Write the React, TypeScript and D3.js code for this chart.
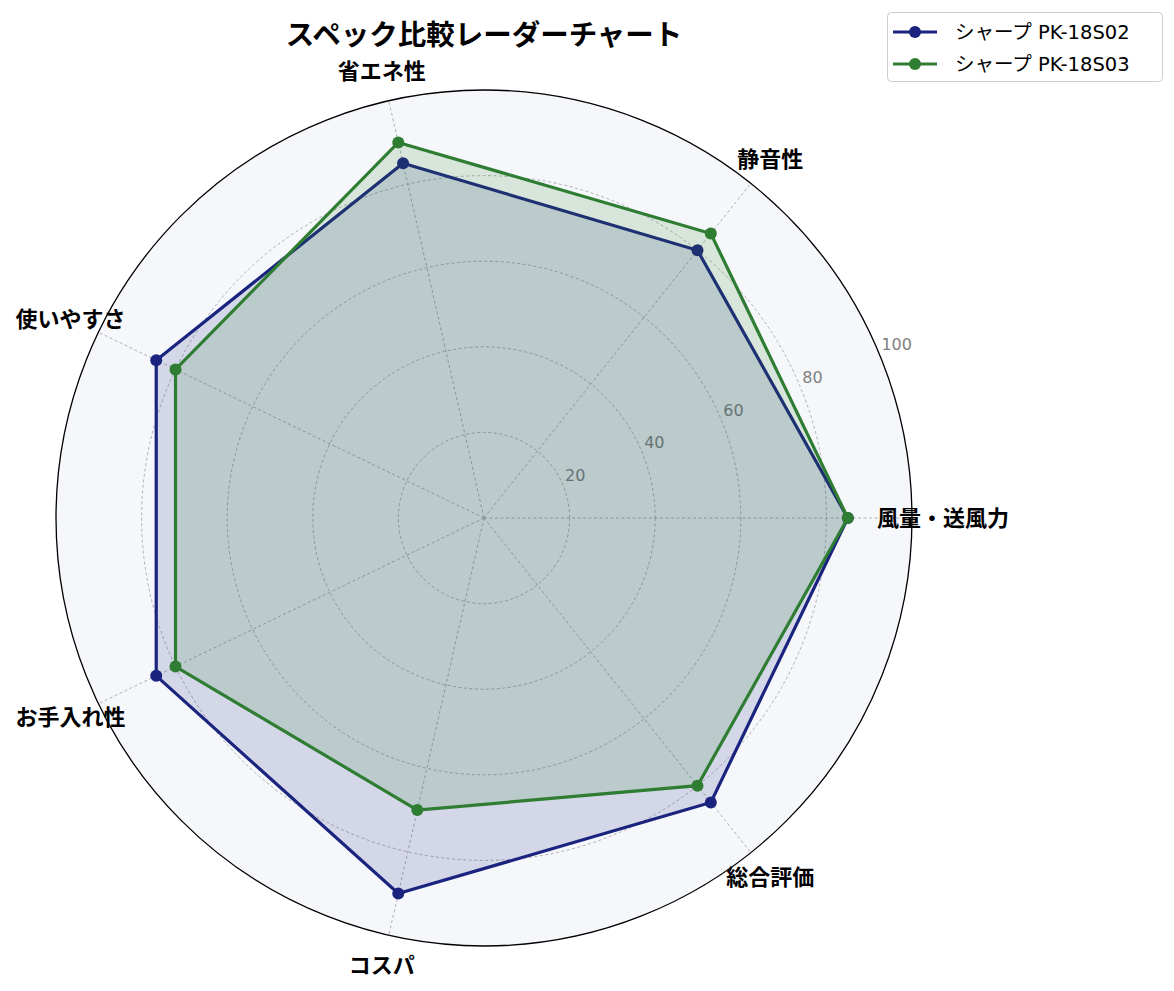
import React, { useEffect, useRef } from 'react';
import * as d3 from 'd3';

const categories = ['風量・送風力', '静音性', '省エネ性', '使いやすさ', 'お手入れ性', 'コスパ', '総合評価'];
const seriesNames = ['シャープ PK-18S02', 'シャープ PK-18S03'];
const valuesS02 = [85, 80, 85, 85, 85, 90, 85];
const valuesS03 = [85, 85, 90, 80, 80, 70, 80];
const seriesColors = ['#1a237e', '#2e7d32'];
const radialTicks = [20, 40, 60, 80, 100];

const W = 1174;
const H = 991;
const FONT = '"Noto Sans CJK JP", "Noto Sans", sans-serif';
const LATIN_FONT = '"DejaVu Sans", "Noto Sans CJK JP", sans-serif';

export default function App() {
  const svgRef = useRef<SVGSVGElement>(null);

  useEffect(() => {
    document.body.style.margin = '0';
    if (!svgRef.current) return;
    const svg = d3.select(svgRef.current);
    svg.selectAll('*').remove();

    const cx = 484;
    const cy = 518;
    const R = 428;

    const r = d3.scaleLinear().domain([0, 100]).range([0, R]);
    const angle = d3.scaleLinear().domain([0, categories.length]).range([0, 2 * Math.PI]);
    // theta 0 at east, counter-clockwise
    const px = (i: number, v: number) => cx + r(v) * Math.cos(angle(i));
    const py = (i: number, v: number) => cy - r(v) * Math.sin(angle(i));

    svg.append('circle')
      .attr('cx', cx).attr('cy', cy).attr('r', R)
      .attr('fill', '#f5f7fa');

    // grid rings
    svg.append('g').selectAll('circle')
      .data(radialTicks.filter(t => t < 100))
      .join('circle')
      .attr('cx', cx).attr('cy', cy)
      .attr('r', d => r(d))
      .attr('fill', 'none')
      .attr('stroke', '#9e9e9e')
      .attr('stroke-width', 0.8)
      .attr('stroke-dasharray', '3,2.5');

    // spokes
    svg.append('g').selectAll('line')
      .data(categories)
      .join('line')
      .attr('x1', cx).attr('y1', cy)
      .attr('x2', (_, i) => px(i, 100))
      .attr('y2', (_, i) => py(i, 100))
      .attr('stroke', '#9e9e9e')
      .attr('stroke-width', 0.8)
      .attr('stroke-dasharray', '3,2.5');

    // radial tick labels at 22.5°
    const la = (22.5 * Math.PI) / 180;
    svg.append('g').selectAll('text')
      .data(radialTicks)
      .join('text')
      .attr('x', d => cx + r(d) * Math.cos(la) + 2)
      .attr('y', d => cy - r(d) * Math.sin(la) - 4)
      .attr('font-family', LATIN_FONT)
      .attr('font-size', 16)
      .attr('fill', '#808080')
      .text(d => d);

    const all = [valuesS02, valuesS03];
    const line = d3.line<number>()
      .x((v, i) => px(i, v))
      .y((v, i) => py(i, v))
      .curve(d3.curveLinearClosed);

    all.forEach((vals, s) => {
      const g = svg.append('g');
      g.append('path')
        .attr('d', line(vals))
        .attr('fill', seriesColors[s])
        .attr('fill-opacity', 0.15)
        .attr('stroke', seriesColors[s])
        .attr('stroke-width', 3.2)
        .attr('stroke-linejoin', 'miter');
      g.selectAll('circle')
        .data(vals)
        .join('circle')
        .attr('cx', (v, i) => px(i, v))
        .attr('cy', (v, i) => py(i, v))
        .attr('r', 6)
        .attr('fill', seriesColors[s]);
    });

    // outer spine
    svg.append('circle')
      .attr('cx', cx).attr('cy', cy).attr('r', R)
      .attr('fill', 'none')
      .attr('stroke', '#000')
      .attr('stroke-width', 1.3);

    // category labels
    svg.append('g').selectAll('text')
      .data(categories)
      .join('text')
      .attr('x', (_, i) => cx + (R + 31) * Math.cos(angle(i)))
      .attr('y', (_, i) => cy - (R + 31) * Math.sin(angle(i)) + 8)
      .attr('text-anchor', 'middle')
      .attr('font-family', FONT)
      .attr('font-weight', 'bold')
      .attr('font-size', 22)
      .attr('fill', '#000')
      .text(d => d);

    // title
    svg.append('text')
      .attr('x', cx)
      .attr('y', 45)
      .attr('text-anchor', 'middle')
      .attr('font-family', FONT)
      .attr('font-weight', 'bold')
      .attr('font-size', 28.5)
      .attr('fill', '#000')
      .text('スペック比較レーダーチャート');

    // legend
    const lg = svg.append('g');
    lg.append('rect')
      .attr('x', 887.5).attr('y', 12.5)
      .attr('width', 275).attr('height', 69)
      .attr('rx', 4)
      .attr('fill', '#fff')
      .attr('fill-opacity', 0.8)
      .attr('stroke', '#cccccc')
      .attr('stroke-width', 1);
    seriesNames.forEach((name, s) => {
      const y = 32 + s * 32;
      lg.append('line')
        .attr('x1', 893).attr('x2', 937)
        .attr('y1', y).attr('y2', y)
        .attr('stroke', seriesColors[s])
        .attr('stroke-width', 3);
      lg.append('circle')
        .attr('cx', 915).attr('cy', y).attr('r', 6)
        .attr('fill', seriesColors[s]);
      lg.append('text')
        .attr('x', 955).attr('y', y + 7)
        .attr('font-family', LATIN_FONT)
        .attr('font-size', 19.5)
        .attr('fill', '#000')
        .text(name);
    });
  }, []);

  return <svg ref={svgRef} width={W} height={H} style={{ display: 'block' }} />;
}
